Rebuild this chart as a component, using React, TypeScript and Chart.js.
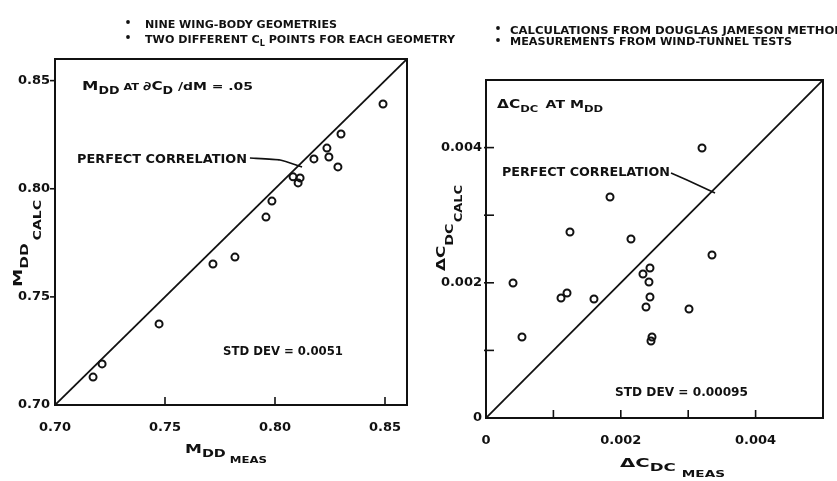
import { useEffect, useRef } from 'react';
import { Chart, registerables } from 'chart.js';

Chart.register(...registerables);

// ---------- Left panel: M_DD (calc vs meas) ----------
const leftMeas = [0.8491, 0.83, 0.8236, 0.8245, 0.8177, 0.8286, 0.8082, 0.8114, 0.8105, 0.7986, 0.7959, 0.7718, 0.7818, 0.7473, 0.7214, 0.7173];
const leftCalc = [0.8392, 0.8253, 0.8188, 0.8147, 0.8138, 0.8101, 0.8055, 0.805, 0.8027, 0.7943, 0.7869, 0.7652, 0.7684, 0.7375, 0.719, 0.7129];
const leftTicks = [0.7, 0.75, 0.8, 0.85];
const leftTickLabels = ['0.70', '0.75', '0.80', '0.85'];
const leftRange = [0.7, 0.86];
const leftLeaderX = [0.7886, 0.8023, 0.8123];
const leftLeaderY = [0.8142, 0.8133, 0.8101];

// ---------- Right panel: delta C_DC (calc vs meas) ----------
const rightMeas = [0.003205, 0.00184, 0.001246, 0.002151, 0.003353, 0.000401, 0.002433, 0.002329, 0.002418, 0.001202, 0.001113, 0.001602, 0.002433, 0.002374, 0.003012, 0.000534, 0.002463, 0.002448];
const rightCalc = [0.003994, 0.003269, 0.002751, 0.002648, 0.002411, 0.001997, 0.002219, 0.00213, 0.002012, 0.001849, 0.001775, 0.00176, 0.00179, 0.001642, 0.001612, 0.001198, 0.001198, 0.001139];
const rightTicks = [0, 0.001, 0.002, 0.003, 0.004];
const rightTickLabels = ['0', '', '0.002', '', '0.004'];
const rightRange = [0, 0.005];
const rightLeaderX = [0.002745, 0.002982, 0.003398];
const rightLeaderY = [0.003624, 0.003521, 0.003328];

const W = 837;
const H = 481;
const INK = '#111';
const FAM = '"DejaVu Sans", sans-serif';

type Seg = { t: string; s: number; dy?: number; gap?: number };

function rich(ctx: CanvasRenderingContext2D, x: number, y: number, segs: Seg[], width?: number, rotate?: boolean) {
  ctx.save();
  ctx.translate(x, y);
  if (rotate) ctx.rotate(-Math.PI / 2);
  const ws = segs.map((g) => {
    ctx.font = `bold ${g.s}px ${FAM}`;
    return ctx.measureText(g.t).width;
  });
  const total = ws.reduce((a, b) => a + b, 0) + segs.reduce((a, g) => a + (g.gap || 0), 0);
  const sx = width ? width / total : 1;
  ctx.scale(sx, 1);
  ctx.fillStyle = INK;
  ctx.textBaseline = 'alphabetic';
  ctx.textAlign = 'left';
  let cx = 0;
  segs.forEach((g, i) => {
    cx += g.gap || 0;
    ctx.font = `bold ${g.s}px ${FAM}`;
    ctx.fillText(g.t, cx, g.dy || 0);
    cx += ws[i];
  });
  ctx.restore();
}

function bullet(ctx: CanvasRenderingContext2D, x: number, y: number) {
  ctx.save();
  ctx.fillStyle = INK;
  ctx.beginPath();
  ctx.arc(x, y, 1.9, 0, Math.PI * 2);
  ctx.fill();
  ctx.restore();
}

type Area = { left: number; top: number; right: number; bottom: number };

type PanelCfg = {
  meas: number[];
  calc: number[];
  ticks: number[];
  labels: string[];
  range: number[];
  leaderX: number[];
  leaderY: number[];
  area: Area;
  yTickOut: boolean;
  decorate: (ctx: CanvasRenderingContext2D) => void;
};

function makePanel(canvas: HTMLCanvasElement, p: PanelCfg) {
  const points = p.meas.map((m, i) => ({ x: m, y: p.calc[i] }));
  const perfect = [
    { x: p.range[0], y: p.range[0] },
    { x: p.range[1], y: p.range[1] },
  ];
  const leader = p.leaderX.map((x, i) => ({ x, y: p.leaderY[i] }));

  const deco = {
    id: 'deco',
    afterDraw(chart: any) {
      const ctx: CanvasRenderingContext2D = chart.ctx;
      const a = chart.chartArea;
      const xs = chart.scales.x;
      const ys = chart.scales.y;
      ctx.save();
      ctx.strokeStyle = INK;
      ctx.lineWidth = 2;
      ctx.strokeRect(a.left, a.top, a.right - a.left, a.bottom - a.top);
      ctx.lineWidth = 1.6;
      p.ticks.forEach((v, i) => {
        if (i === 0) return;
        const px = xs.getPixelForValue(v);
        ctx.beginPath();
        ctx.moveTo(px, a.bottom);
        ctx.lineTo(px, a.bottom - 8);
        ctx.stroke();
        const py = ys.getPixelForValue(v);
        ctx.beginPath();
        if (p.yTickOut) {
          ctx.moveTo(a.left - 5, py);
          ctx.lineTo(a.left, py);
        } else {
          ctx.moveTo(a.left - 2, py);
          ctx.lineTo(a.left + 8, py);
        }
        ctx.stroke();
      });
      ctx.restore();
      p.decorate(ctx);
    },
  };

  return new Chart(canvas, {
    type: 'scatter',
    data: {
      datasets: [
        {
          data: perfect,
          showLine: true,
          borderColor: INK,
          borderWidth: 1.8,
          pointRadius: 0,
        },
        {
          data: leader,
          showLine: true,
          borderColor: INK,
          borderWidth: 1.6,
          pointRadius: 0,
          tension: 0.15,
        },
        {
          data: points,
          showLine: false,
          pointStyle: 'circle',
          pointRadius: 3.5,
          borderWidth: 2,
          borderColor: INK,
          backgroundColor: 'rgba(0,0,0,0)',
        },
      ],
    },
    options: {
      responsive: false,
      animation: false,
      devicePixelRatio: 1,
      layout: {
        padding: { left: 0, top: p.area.top, right: W - p.area.right, bottom: 0 },
      },
      plugins: { legend: { display: false }, tooltip: { enabled: false } },
      scales: {
        x: {
          type: 'linear',
          min: p.range[0],
          max: p.range[1],
          grid: { display: false, drawTicks: false },
          border: { display: false },
          afterBuildTicks: (s: any) => {
            s.ticks = p.ticks.map((v) => ({ value: v }));
          },
          afterFit: (s: any) => {
            s.height = H - p.area.bottom;
          },
          ticks: {
            padding: 15,
            maxRotation: 0,
            autoSkip: false,
            color: INK,
            font: { family: FAM, size: 13, weight: 'bold' },
            callback: (_v: any, i: number) => p.labels[i],
          },
        },
        y: {
          type: 'linear',
          min: p.range[0],
          max: p.range[1],
          grid: { display: false, drawTicks: false },
          border: { display: false },
          afterBuildTicks: (s: any) => {
            s.ticks = p.ticks.map((v) => ({ value: v }));
          },
          afterFit: (s: any) => {
            s.width = p.area.left;
          },
          ticks: {
            padding: p.yTickOut ? 5 : 4,
            autoSkip: false,
            color: INK,
            font: { family: FAM, size: 13, weight: 'bold' },
            callback: (_v: any, i: number) => p.labels[i],
          },
        },
      },
    },
    plugins: [deco],
  } as any);
}

export default function App() {
  const leftRef = useRef<HTMLCanvasElement>(null);
  const rightRef = useRef<HTMLCanvasElement>(null);

  useEffect(() => {
    const left = makePanel(leftRef.current!, {
      meas: leftMeas,
      calc: leftCalc,
      ticks: leftTicks,
      labels: leftTickLabels,
      range: leftRange,
      leaderX: leftLeaderX,
      leaderY: leftLeaderY,
      area: { left: 55, top: 59, right: 407, bottom: 405 },
      yTickOut: true,
      decorate: (ctx) => {
        bullet(ctx, 128, 22);
        rich(ctx, 145, 28, [{ t: 'NINE WING-BODY GEOMETRIES', s: 11 }], 192);
        bullet(ctx, 128, 37);
        rich(ctx, 145, 43, [
          { t: 'TWO DIFFERENT C', s: 11 },
          { t: 'L', s: 8, dy: 3 },
          { t: ' POINTS FOR EACH GEOMETRY', s: 11 },
        ], 310);
        rich(ctx, 82, 90, [
          { t: 'M', s: 13 },
          { t: 'DD', s: 10, dy: 4 },
          { t: ' AT ', s: 9 },
          { t: '\u2202C', s: 12 },
          { t: 'D', s: 10, dy: 4 },
          { t: ' /dM = .05', s: 11 },
        ], 171);
        rich(ctx, 77, 163, [{ t: 'PERFECT CORRELATION', s: 12 }], 170);
        rich(ctx, 223, 355, [{ t: 'STD DEV = 0.0051', s: 12 }], 120);
        rich(ctx, 185, 453, [
          { t: 'M', s: 13 },
          { t: 'DD', s: 11, dy: 4 },
          { t: 'MEAS', s: 9, dy: 10, gap: 3 },
        ], 82);
        rich(ctx, 22, 287, [
          { t: 'M', s: 13 },
          { t: 'DD', s: 11, dy: 6 },
          { t: 'CALC', s: 10, dy: 19, gap: 2 },
        ], 87, true);
      },
    });
    const right = makePanel(rightRef.current!, {
      meas: rightMeas,
      calc: rightCalc,
      ticks: rightTicks,
      labels: rightTickLabels,
      range: rightRange,
      leaderX: rightLeaderX,
      leaderY: rightLeaderY,
      area: { left: 486, top: 80, right: 823, bottom: 418 },
      yTickOut: false,
      decorate: (ctx) => {
        bullet(ctx, 498, 28);
        rich(ctx, 510, 34, [{ t: 'CALCULATIONS FROM DOUGLAS JAMESON METHOD', s: 11 }], 334);
        bullet(ctx, 498, 40);
        rich(ctx, 510, 45, [{ t: 'MEASUREMENTS FROM WIND-TUNNEL TESTS', s: 11 }], 282);
        rich(ctx, 497, 108, [
          { t: '\u0394C', s: 12 },
          { t: 'DC', s: 9, dy: 4 },
          { t: ' AT M', s: 11, gap: 2 },
          { t: 'DD', s: 9, dy: 4 },
        ], 106);
        rich(ctx, 502, 176, [{ t: 'PERFECT CORRELATION', s: 12 }], 168);
        rich(ctx, 615, 396, [{ t: 'STD DEV = 0.00095', s: 12 }], 133);
        rich(ctx, 620, 467, [
          { t: '\u0394C', s: 13 },
          { t: 'DC', s: 11, dy: 4 },
          { t: 'MEAS', s: 9, dy: 10, gap: 4 },
        ], 105);
        rich(ctx, 445, 271, [
          { t: '\u0394C', s: 13 },
          { t: 'DC', s: 11, dy: 8 },
          { t: 'CALC', s: 10, dy: 17, gap: 1 },
        ], 86, true);
      },
    });
    return () => {
      left.destroy();
      right.destroy();
    };
  }, []);

  const cs: React.CSSProperties = { position: 'absolute', left: 0, top: 0, width: W, height: H };
  return (
    <div style={{ position: 'absolute', left: 0, top: 0, width: W, height: H, background: '#fff', overflow: 'hidden' }}>
      <canvas ref={leftRef} width={W} height={H} style={cs} />
      <canvas ref={rightRef} width={W} height={H} style={cs} />
    </div>
  );
}
